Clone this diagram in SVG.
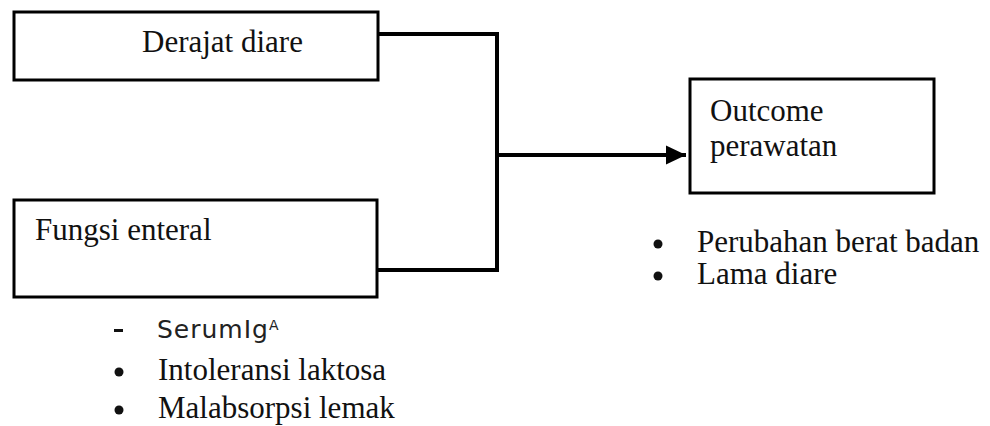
<svg xmlns="http://www.w3.org/2000/svg" width="990" height="426" viewBox="0 0 990 426">
<defs>
<style>
.box{fill:#fff;stroke:#000;stroke-width:3}
.t{font-family:"Liberation Serif","Times New Roman",serif;font-size:31px;fill:#111}
.hw{font-family:"DejaVu Sans",sans-serif;font-size:25px;fill:#222;letter-spacing:1px}
.con{fill:none;stroke:#000;stroke-width:4}
</style>
<marker id="arr" markerWidth="6" markerHeight="6" refX="5" refY="3" orient="auto" markerUnits="strokeWidth">
<path d="M0,0.6 L5,3 L0,5.4 Z" fill="#000"/>
</marker>
</defs>
<rect width="990" height="426" fill="#fff"/>
<g id="connectors">
<polyline class="con" points="378,34 497,34 497,270 378,270"/>
<line class="con" x1="497" y1="155" x2="686" y2="155" marker-end="url(#arr)"/>
</g>
<g id="derajat">
<rect class="box" x="14" y="12" width="364" height="68"/>
<text class="t" x="142" y="52">Derajat diare</text>
</g>
<g id="fungsi">
<rect class="box" x="14" y="200" width="363" height="97"/>
<text class="t" x="35" y="240">Fungsi enteral</text>
</g>
<g id="outcome">
<rect class="box" x="690" y="79" width="244" height="114"/>
<text class="t" x="710" y="121">Outcome</text>
<text class="t" x="710" y="156">perawatan</text>
</g>
<g id="list-left">
<rect x="114" y="329" width="9" height="3" fill="#111"/>
<text class="hw" x="157" y="338">SerumIg<tspan font-size="14" dy="-8">A</tspan></text>
<circle cx="119" cy="372" r="4.5" fill="#111"/>
<text class="t" x="158" y="380">Intoleransi laktosa</text>
<circle cx="119" cy="410" r="4.5" fill="#111"/>
<text class="t" x="158" y="418">Malabsorpsi lemak</text>
</g>
<g id="list-right">
<circle cx="658" cy="244" r="4.5" fill="#111"/>
<text class="t" x="697" y="252">Perubahan berat badan</text>
<circle cx="658" cy="276" r="4.5" fill="#111"/>
<text class="t" x="697" y="284">Lama diare</text>
</g>
</svg>
